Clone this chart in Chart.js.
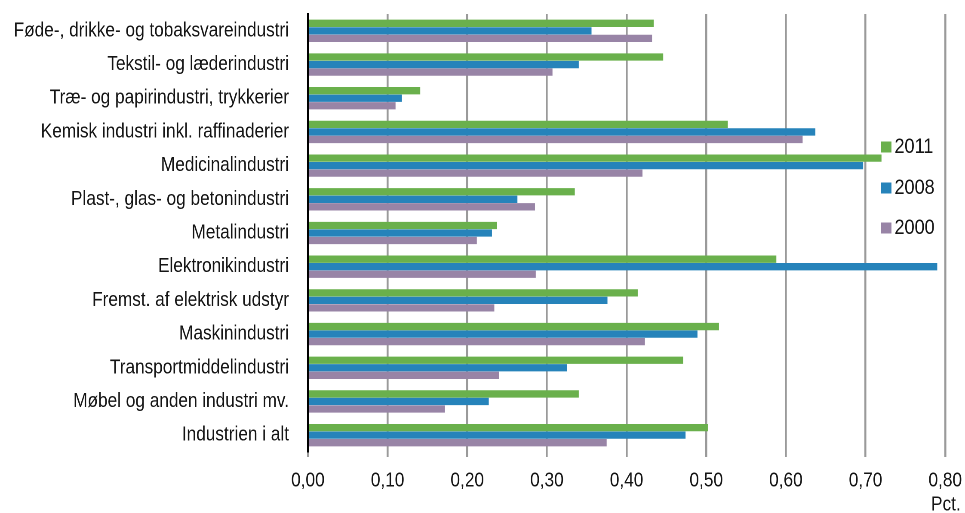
<!DOCTYPE html>
<html>
<head>
<meta charset="utf-8">
<script src="https://cdn.jsdelivr.net/npm/chart.js@4.4.1/dist/chart.umd.min.js"></script>
<style>
  html, body { margin: 0; padding: 0; background: #fff; overflow: hidden; }
  /* the original uses a narrow face; draw wider and squeeze horizontally */
  #wrap { width: 1122px; height: 513px; transform: scaleX(0.86007); transform-origin: 0 0; }
</style>
</head>
<body>
<div id="wrap"><canvas id="chart"></canvas></div>
<script>
const categories = [
  'Føde-, drikke- og tobaksvareindustri',
  'Tekstil- og læderindustri',
  'Træ- og papirindustri, trykkerier',
  'Kemisk industri inkl. raffinaderier',
  'Medicinalindustri',
  'Plast-, glas- og betonindustri',
  'Metalindustri',
  'Elektronikindustri',
  'Fremst. af elektrisk udstyr',
  'Maskinindustri',
  'Transportmiddelindustri',
  'Møbel og anden industri mv.',
  'Industrien i alt'
];
const values2011 = [0.434, 0.446, 0.141, 0.527, 0.720, 0.335, 0.237, 0.588, 0.414, 0.516, 0.471, 0.340, 0.502];
const values2008 = [0.356, 0.340, 0.118, 0.637, 0.697, 0.263, 0.231, 0.790, 0.376, 0.489, 0.325, 0.227, 0.474];
const values2000 = [0.432, 0.307, 0.110, 0.621, 0.420, 0.285, 0.212, 0.286, 0.234, 0.423, 0.240, 0.172, 0.375];
const seriesLabels = ['2011', '2008', '2000'];
const xTicks = [0, 0.1, 0.2, 0.3, 0.4, 0.5, 0.6, 0.7, 0.8];
const unitLabel = 'Pct.';

const FONT = '"Liberation Sans", Arial, sans-serif';
const colors = ['#6AB04C', '#2683BA', '#9884A6'];

// legend + unit text, drawn inside the plot at the right like the original
const sideLegend = {
  id: 'sideLegend',
  afterDraw(chart) {
    const ctx = chart.ctx;
    ctx.save();
    ctx.font = '21px ' + FONT;
    ctx.textBaseline = 'middle';
    ctx.textAlign = 'left';
    const ys = [147, 188, 228];
    chart.data.datasets.forEach((ds, i) => {
      ctx.fillStyle = ds.backgroundColor;
      ctx.fillRect(1024, ys[i] - 5.5, 12.5, 11);
      ctx.fillStyle = '#151515';
      ctx.fillText(ds.label, 1040, ys[i]);
    });
    ctx.font = '20px ' + FONT;
    ctx.textAlign = 'right';
    ctx.fillText(unitLabel, 1117, 505);
    ctx.restore();
  }
};

const ctx = document.getElementById('chart').getContext('2d');
new Chart(ctx, {
  type: 'bar',
  data: {
    labels: categories,
    datasets: [
      { label: seriesLabels[0], data: values2011, backgroundColor: colors[0] },
      { label: seriesLabels[1], data: values2008, backgroundColor: colors[1] },
      { label: seriesLabels[2], data: values2000, backgroundColor: colors[2] }
    ]
  },
  options: {
    indexAxis: 'y',
    responsive: true,
    maintainAspectRatio: false,
    animation: false,
    devicePixelRatio: 2,
    layout: { padding: { top: 14, right: 23, left: 0, bottom: 0 } },
    datasets: {
      bar: { categoryPercentage: 0.67, barPercentage: 0.97 }
    },
    plugins: {
      legend: { display: false },
      tooltip: { enabled: false }
    },
    scales: {
      x: {
        min: 0,
        max: 0.8,
        afterFit(scale) { scale.height = 61; scale.paddingRight = 0; scale.paddingLeft = 0; },
        afterBuildTicks(scale) { scale.ticks = xTicks.map(v => ({ value: v })); },
        grid: { color: '#9a9a9a', lineWidth: 2.3, tickLength: 5, drawTicks: true },
        border: { display: false },
        ticks: {
          padding: 12,
          color: '#151515',
          font: { family: FONT, size: 20 },
          maxRotation: 0,
          callback: v => v.toFixed(2).replace('.', ',')
        }
      },
      y: {
        afterFit(scale) { scale.width = 358; scale.paddingTop = 0; scale.paddingBottom = 0; },
        grid: { display: false, drawTicks: false, tickLength: 0 },
        border: { display: true, color: '#000', width: 2.4 },
        ticks: {
          padding: 22,
          color: '#151515',
          font: { family: FONT, size: 20 },
          autoSkip: false
        }
      }
    }
  },
  plugins: [sideLegend]
});
</script>
</body>
</html>
